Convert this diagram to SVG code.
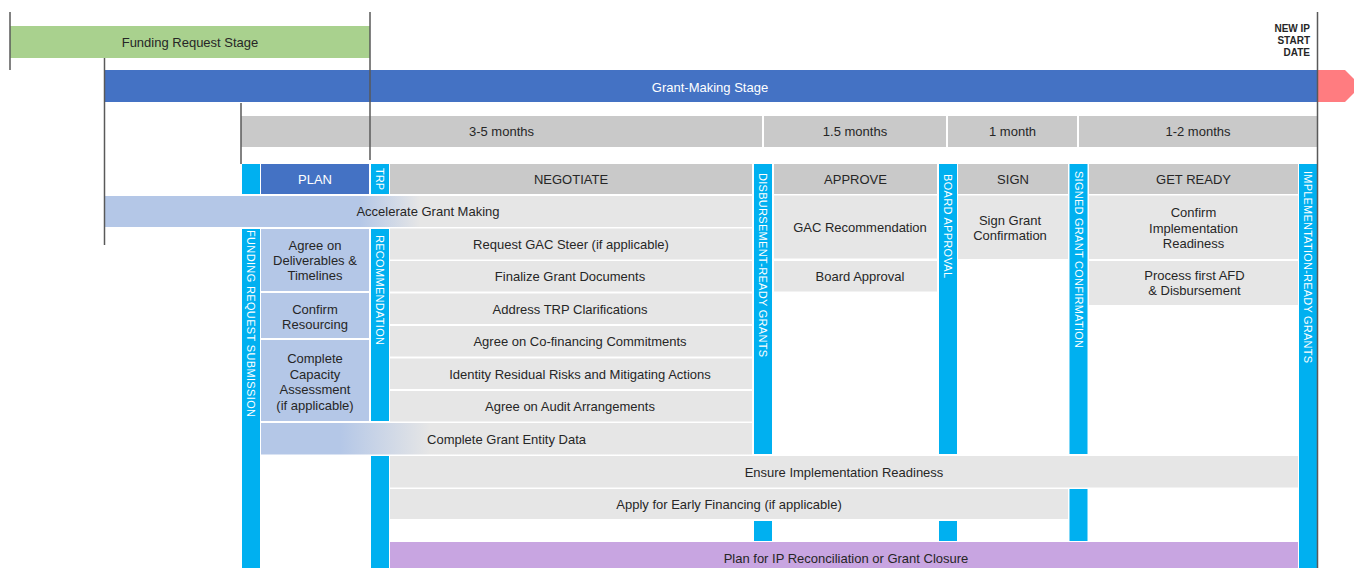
<svg xmlns="http://www.w3.org/2000/svg" width="1354" height="568" viewBox="0 0 1354 568">
<style>
.t{font-family:"Liberation Sans",Arial,sans-serif;font-size:13px;fill:#262626;text-anchor:middle}
.tw{fill:#ffffff}
.v{font-family:"Liberation Sans",Arial,sans-serif;font-size:11px;fill:#ffffff}
.cy{fill:#00B0F0}
.lg{fill:#E6E6E6}
.hd{fill:#C9C9C9}
.lb{fill:#B4C7E7}
.ln{stroke:#595959;stroke-width:1.5;fill:none}
</style>
<defs>
<linearGradient id="gAcc" gradientUnits="userSpaceOnUse" x1="360" y1="0" x2="420" y2="0">
<stop offset="0" stop-color="#B4C7E7"/><stop offset="1" stop-color="#E6E6E6"/>
</linearGradient>
<linearGradient id="gCge" gradientUnits="userSpaceOnUse" x1="340" y1="0" x2="430" y2="0">
<stop offset="0" stop-color="#B4C7E7"/><stop offset="1" stop-color="#E6E6E6"/>
</linearGradient>
</defs>
<rect width="1354" height="568" fill="#ffffff"/>

<g id="funding-request-stage">
<rect x="10" y="26" width="360" height="32" fill="#A9D18E"/>
<text class="t" x="190" y="46.5">Funding Request Stage</text>
</g>
<g id="grant-making-stage">
<rect x="104" y="70" width="1213" height="32" fill="#4472C4"/>
<text class="t tw" x="710" y="91.5">Grant-Making Stage</text>
</g>
<g id="new-ip-arrow">
<polygon points="1317,70 1345,70 1361,86 1345,102 1317,102" fill="#FF7C80"/>
</g>
<g id="new-ip-start-date">
<text class="t" style="font-size:10px;font-weight:bold;text-anchor:end" x="1310" y="32">NEW IP</text>
<text class="t" style="font-size:10px;font-weight:bold;text-anchor:end" x="1310" y="44">START</text>
<text class="t" style="font-size:10px;font-weight:bold;text-anchor:end" x="1310" y="56">DATE</text>
</g>

<g id="duration-3-5">
<rect class="hd" x="241" y="116" width="521" height="31"/>
<text class="t" x="501.5" y="136">3-5 months</text>
</g>
<g id="duration-1-5">
<rect class="hd" x="764" y="116" width="182" height="31"/>
<text class="t" x="855" y="136">1.5 months</text>
</g>
<g id="duration-1">
<rect class="hd" x="948" y="116" width="129" height="31"/>
<text class="t" x="1012.5" y="136">1 month</text>
</g>
<g id="duration-1-2">
<rect class="hd" x="1079" y="116" width="238" height="31"/>
<text class="t" x="1198" y="136">1-2 months</text>
</g>

<g id="milestone-funding-request-submission">
<rect class="cy" x="242" y="164" width="18" height="30"/>
<rect class="cy" x="242" y="229" width="18" height="339"/>
<text class="v" transform="translate(247.1,230) rotate(90)" textLength="187" lengthAdjust="spacing">FUNDING REQUEST SUBMISSION</text>
</g>
<g id="milestone-trp-recommendation">
<rect class="cy" x="371" y="164" width="18" height="30"/>
<rect class="cy" x="371" y="229" width="18" height="192"/>
<rect class="cy" x="371" y="456" width="18" height="112"/>
<text class="v" transform="translate(376.1,168) rotate(90)" textLength="22" lengthAdjust="spacing">TRP</text>
<text class="v" transform="translate(376.1,235) rotate(90)" textLength="110" lengthAdjust="spacing">RECOMMENDATION</text>
</g>
<g id="milestone-disbursement-ready">
<rect class="cy" x="754" y="164" width="18" height="290"/>
<rect class="cy" x="754" y="521" width="18" height="20"/>
<text class="v" transform="translate(759.1,173) rotate(90)" textLength="184" lengthAdjust="spacing">DISBURSEMENT-READY GRANTS</text>
</g>
<g id="milestone-board-approval">
<rect class="cy" x="939" y="164" width="18" height="290"/>
<rect class="cy" x="939" y="521" width="18" height="20"/>
<text class="v" transform="translate(944.1,174) rotate(90)" textLength="104" lengthAdjust="spacing">BOARD APPROVAL</text>
</g>
<g id="milestone-signed-grant">
<rect class="cy" x="1069.5" y="164" width="18" height="290"/>
<rect class="cy" x="1069.5" y="489" width="18" height="52"/>
<text class="v" transform="translate(1074.6,171) rotate(90)" textLength="177" lengthAdjust="spacing">SIGNED GRANT CONFIRMATION</text>
</g>
<g id="milestone-implementation-ready">
<rect class="cy" x="1299" y="164" width="18" height="404"/>
<text class="v" transform="translate(1304.1,171) rotate(90)" textLength="192" lengthAdjust="spacing">IMPLEMENTATION-READY GRANTS</text>
</g>

<g id="phase-plan">
<rect x="261" y="164" width="108" height="30" fill="#4472C4"/>
<text class="t tw" x="315" y="183.5">PLAN</text>
</g>
<g id="phase-negotiate">
<rect class="hd" x="390" y="164" width="362" height="30"/>
<text class="t" x="571" y="183.5">NEGOTIATE</text>
</g>
<g id="phase-approve">
<rect class="hd" x="774" y="164" width="163" height="30"/>
<text class="t" x="855.5" y="183.5">APPROVE</text>
</g>
<g id="phase-sign">
<rect class="hd" x="958" y="164" width="110" height="30"/>
<text class="t" x="1013" y="183.5">SIGN</text>
</g>
<g id="phase-get-ready">
<rect class="hd" x="1089" y="164" width="209" height="30"/>
<text class="t" x="1193.5" y="183.5">GET READY</text>
</g>

<g id="accelerate-grant-making">
<rect x="104" y="196" width="648" height="31" fill="url(#gAcc)"/>
<text class="t" x="428" y="216">Accelerate Grant Making</text>
</g>

<g id="agree-deliverables">
<rect class="lb" x="261" y="229" width="108" height="62"/>
<text class="t" x="315" y="249.5">Agree on</text>
<text class="t" x="315" y="264.5">Deliverables &amp;</text>
<text class="t" x="315" y="280">Timelines</text>
</g>
<g id="confirm-resourcing">
<rect class="lb" x="261" y="293" width="108" height="45"/>
<text class="t" x="315" y="313.5">Confirm</text>
<text class="t" x="315" y="329">Resourcing</text>
</g>
<g id="capacity-assessment">
<rect class="lb" x="261" y="340" width="108" height="81"/>
<text class="t" x="315" y="362.8">Complete</text>
<text class="t" x="315" y="378.5">Capacity</text>
<text class="t" x="315" y="394">Assessment</text>
<text class="t" x="315" y="410">(if applicable)</text>
</g>

<g id="request-gac-steer">
<rect class="lg" x="390" y="228.5" width="362" height="31"/>
<text class="t" x="571" y="248.5">Request GAC Steer (if applicable)</text>
</g>
<g id="finalize-grant-documents">
<rect class="lg" x="390" y="261" width="362" height="30.5"/>
<text class="t" x="570" y="281">Finalize Grant Documents</text>
</g>
<g id="address-trp">
<rect class="lg" x="390" y="293.5" width="362" height="30.5"/>
<text class="t" x="570" y="313.5">Address TRP Clarifications</text>
</g>
<g id="cofinancing">
<rect class="lg" x="390" y="326" width="362" height="30.5"/>
<text class="t" x="580" y="346">Agree on Co-financing Commitments</text>
</g>
<g id="residual-risks">
<rect class="lg" x="390" y="358.5" width="362" height="30.5"/>
<text class="t" x="580" y="378.5">Identity Residual Risks and Mitigating Actions</text>
</g>
<g id="audit-arrangements">
<rect class="lg" x="390" y="391" width="362" height="30.5"/>
<text class="t" x="570" y="411">Agree on Audit Arrangements</text>
</g>
<g id="grant-entity-data">
<rect x="261" y="423" width="491" height="31.5" fill="url(#gCge)"/>
<text class="t" x="506.5" y="443.5">Complete Grant Entity Data</text>
</g>

<g id="gac-recommendation">
<rect class="lg" x="774" y="195.5" width="163" height="63"/>
<text class="t" x="860" y="232">GAC Recommendation</text>
</g>
<g id="board-approval">
<rect class="lg" x="774" y="261" width="163" height="30.5"/>
<text class="t" x="860" y="281">Board Approval</text>
</g>
<g id="sign-grant-confirmation">
<rect class="lg" x="958" y="195.5" width="110" height="63.5"/>
<text class="t" x="1010" y="224.5">Sign Grant</text>
<text class="t" x="1010" y="240">Confirmation</text>
</g>
<g id="confirm-implementation-readiness">
<rect class="lg" x="1089" y="195.5" width="209" height="63.5"/>
<text class="t" x="1193.5" y="216.8">Confirm</text>
<text class="t" x="1193.5" y="232.8">Implementation</text>
<text class="t" x="1193.5" y="247.8">Readiness</text>
</g>
<g id="process-first-afd">
<rect class="lg" x="1089" y="261" width="209" height="44"/>
<text class="t" x="1194.5" y="280.2">Process first AFD</text>
<text class="t" x="1194.5" y="295.2">&amp; Disbursement</text>
</g>

<g id="ensure-implementation-readiness">
<rect class="lg" x="390" y="456" width="908" height="31.5"/>
<text class="t" x="844" y="476.5">Ensure Implementation Readiness</text>
</g>
<g id="early-financing">
<rect class="lg" x="390" y="489" width="678" height="30"/>
<text class="t" x="729" y="508.5">Apply for Early Financing (if applicable)</text>
</g>
<g id="ip-reconciliation">
<rect x="390" y="542" width="908" height="26" fill="#C8A5E1"/>
<text class="t" x="846" y="562.5">Plan for IP Reconciliation or Grant Closure</text>
</g>

<g id="connectors">
<line class="ln" x1="10" y1="12" x2="10" y2="70"/>
<line class="ln" x1="104.5" y1="58" x2="104.5" y2="245"/>
<line class="ln" x1="241" y1="103" x2="241" y2="164"/>
<line class="ln" x1="370" y1="12" x2="370" y2="160"/>
<line class="ln" x1="1317.5" y1="12" x2="1317.5" y2="568"/>
</g>
</svg>
